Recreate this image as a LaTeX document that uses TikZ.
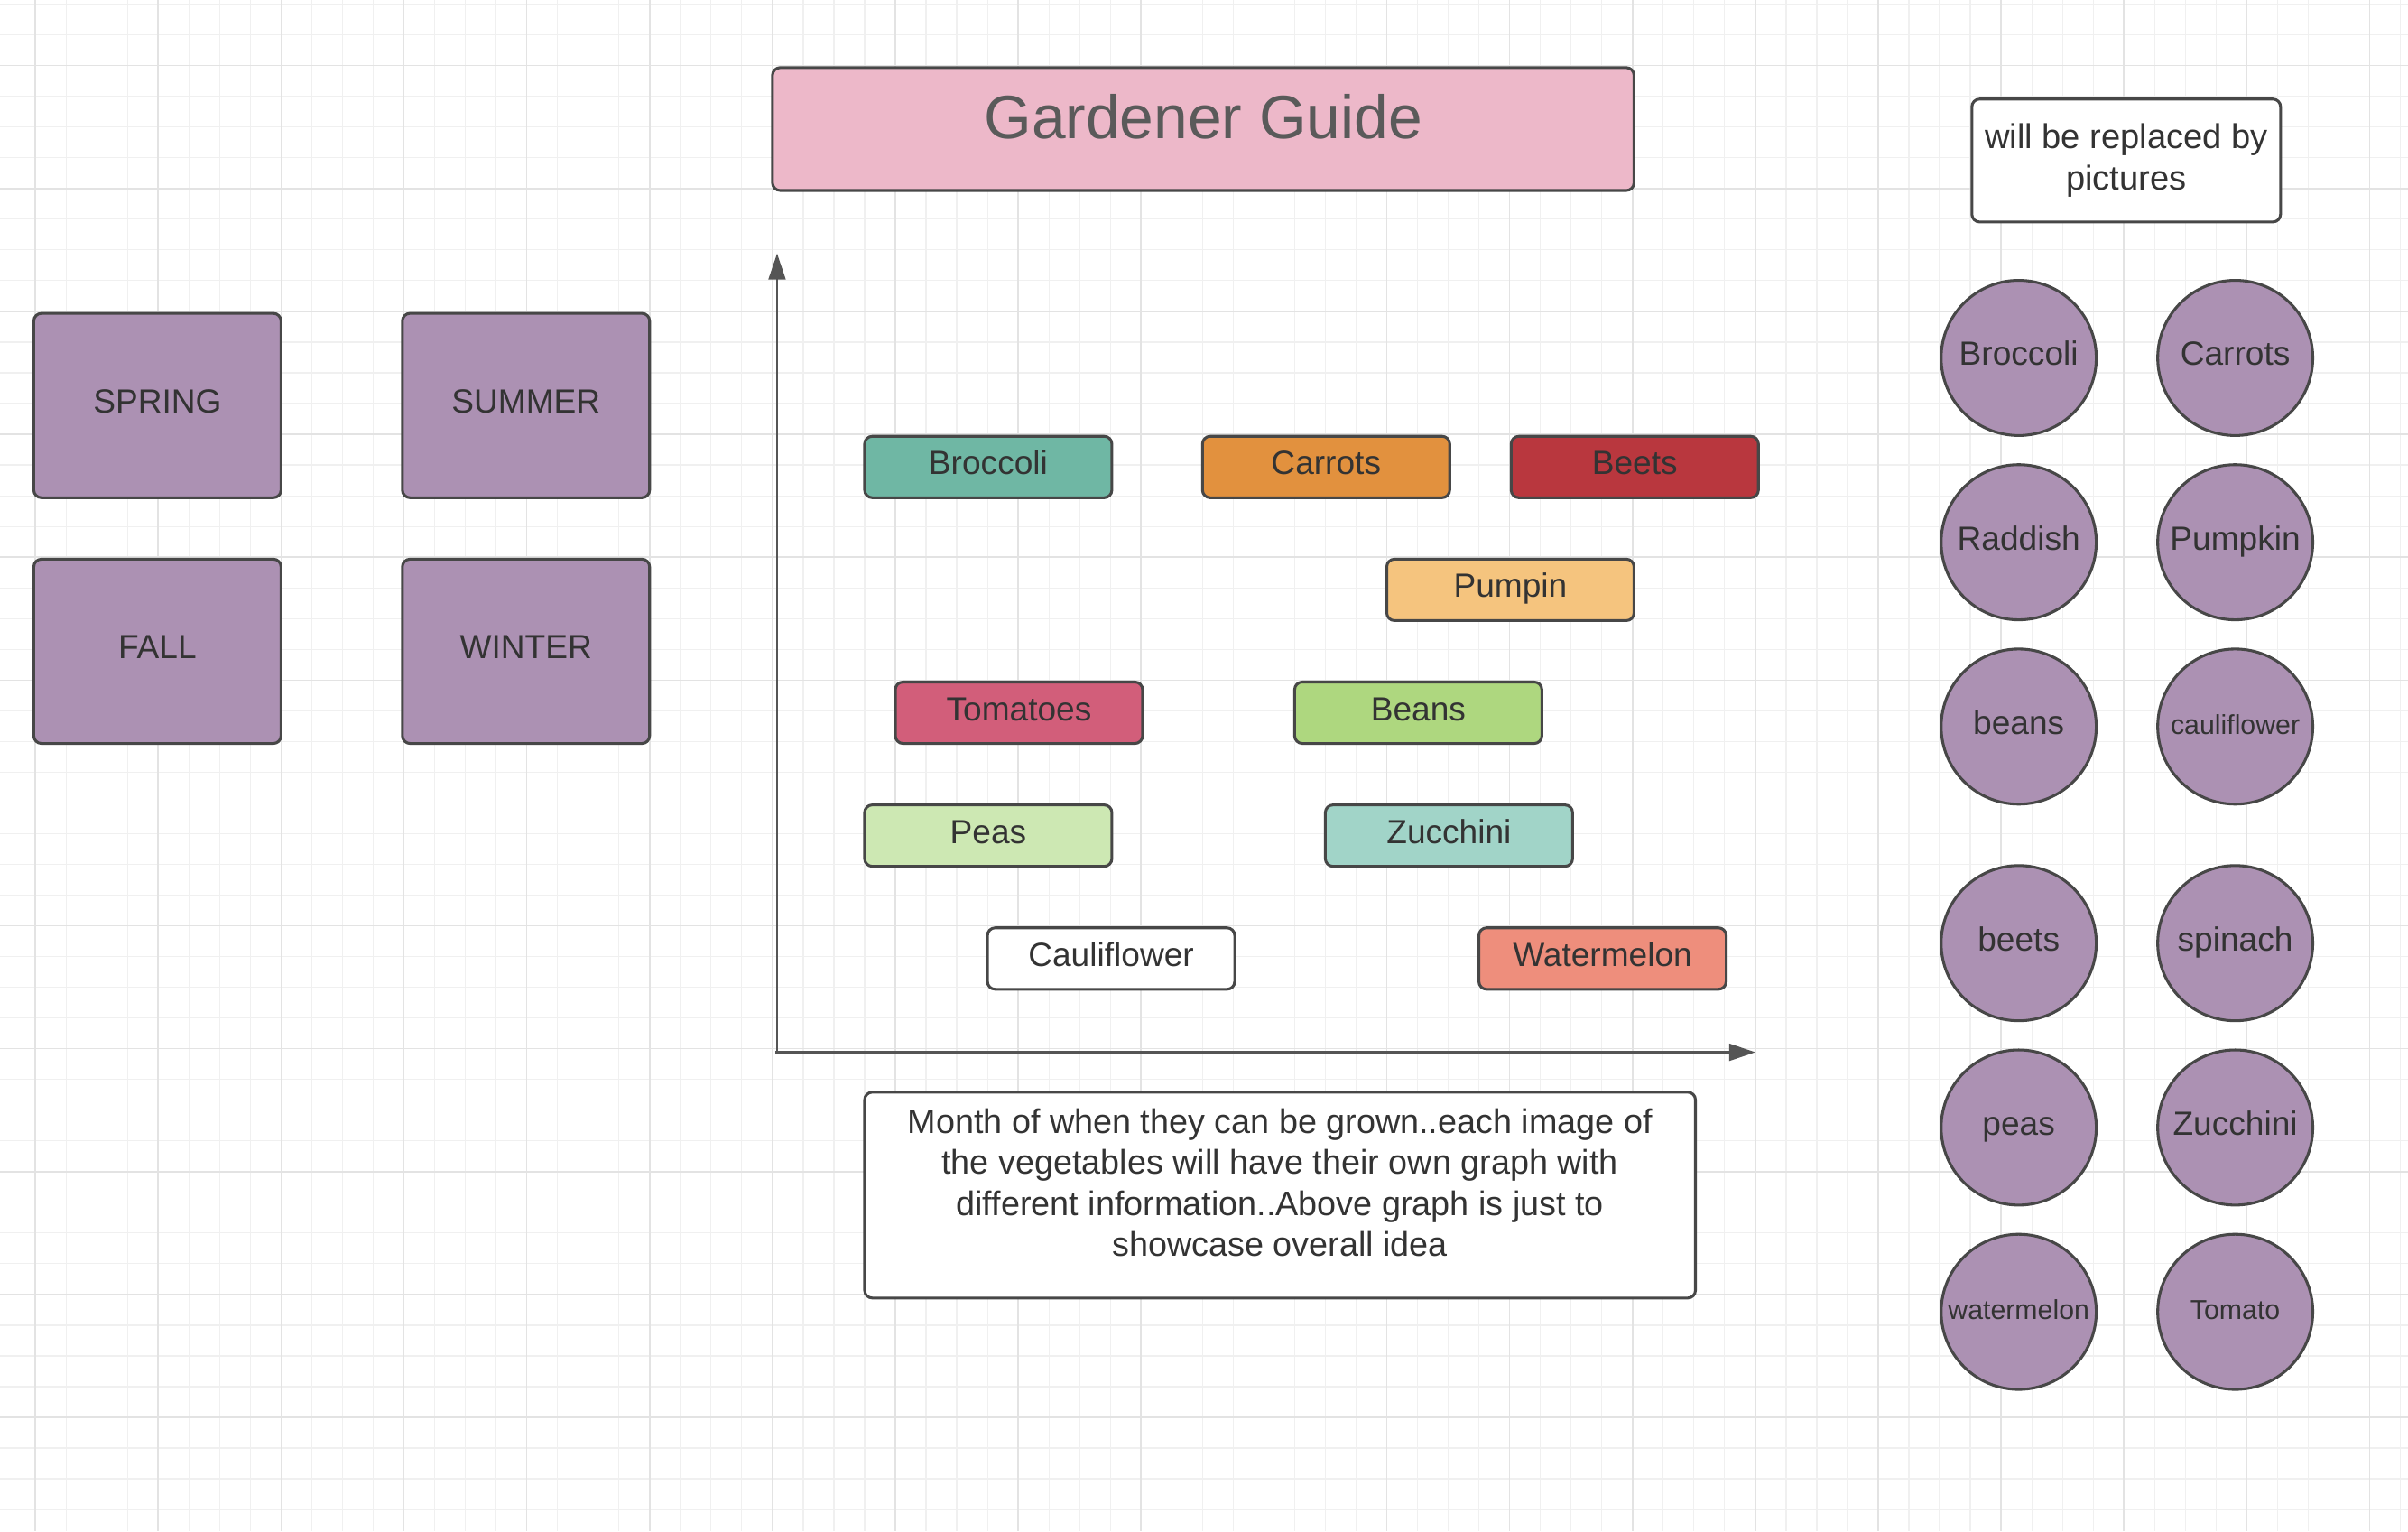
\documentclass[tikz,border=0pt]{standalone}
\usepackage{fontspec}
\setmainfont{Liberation Sans}
\usetikzlibrary{arrows.meta}
\definecolor{gridminor}{HTML}{F0F0F0}
\definecolor{gridmajor}{HTML}{E3E3E3}
\definecolor{edge}{HTML}{474747}
\definecolor{axisc}{HTML}{555555}
\definecolor{txt}{HTML}{333333}
\definecolor{titletxt}{HTML}{5A5A5A}
\definecolor{pinkT}{HTML}{EDB8C9}
\definecolor{purp}{HTML}{AC91B3}
\definecolor{tealB}{HTML}{6FB7A4}
\definecolor{orangeC}{HTML}{E2913E}
\definecolor{redB}{HTML}{B9373E}
\definecolor{pumpkinC}{HTML}{F5C47E}
\definecolor{tomatoC}{HTML}{D25E7A}
\definecolor{beansC}{HTML}{AED77F}
\definecolor{peasC}{HTML}{CDE8B3}
\definecolor{zucchiniC}{HTML}{A1D4C8}
\definecolor{melonC}{HTML}{EE8E7C}
\begin{document}
\begin{tikzpicture}[x=0.5pt,y=-0.5pt,
  minorline/.style={draw=gridminor, line width=0.35pt},
  majorline/.style={draw=gridmajor, line width=0.45pt},
  box/.style={draw=edge, line width=0.9pt, rounded corners=2.5pt, inner sep=0pt,
    text=txt, font=\fontsize{10.9pt}{13pt}\selectfont},
  season/.style={box, fill=purp, minimum width=80.5pt, minimum height=60pt,
    text height=0.75em, text depth=0.25em},
  bar/.style={box, minimum width=80.5pt, minimum height=20pt,
    text height=0.75em, text depth=0.25em},
  veg/.style={circle, draw=edge, line width=0.9pt, fill=purp, minimum size=50.5pt,
    inner sep=0pt, text=txt, font=\fontsize{10.9pt}{13pt}\selectfont,
    text height=0.75em, text depth=0.25em},
  smallveg/.style={veg, font=\fontsize{8.9pt}{10pt}\selectfont},
  note/.style={box, fill=white, align=center},
  axisline/.style={draw=axisc, line width=0.8pt, -{Triangle[length=8.5pt,width=5.5pt]}}
]
\useasboundingbox (0,0) rectangle (1568,996.8);
\fill[white] (0,0) rectangle (1568,996.8);
% grid
\foreach \gx in {3,23,...,1563} \draw[minorline] (\gx,0) -- (\gx,996.8);
\foreach \gy in {2.7,22.7,...,982.7} \draw[minorline] (0,\gy) -- (1568,\gy);
\foreach \gx in {23,103,...,1543} \draw[majorline] (\gx,0) -- (\gx,996.8);
\foreach \gy in {42.7,122.7,...,922.7} \draw[majorline] (0,\gy) -- (1568,\gy);

% title
\node[box, fill=pinkT, minimum width=280.5pt, minimum height=40pt, text=titletxt,
  font=\fontsize{19.9pt}{22pt}\selectfont, text height=0.75em, text depth=0.1em]
  (title) at (783.5,84) {Gardener Guide};

% seasons
\node[season] (spring) at (102.5,264) {SPRING};
\node[season] (summer) at (342.5,264) {SUMMER};
\node[season] (fall)   at (102.5,424) {FALL};
\node[season] (winter) at (342.5,424) {WINTER};

% axes
\coordinate (origin) at (506,685);
\coordinate (ytop) at (506,165);
\coordinate (xstart) at (505,685);
\coordinate (xend) at (1143,685);
\draw[axisline] (origin) -- (ytop);
\draw[axisline] (xstart) -- (xend);

% bars
\node[bar, fill=tealB]     (bBroccoli)    at (643.5,304) {Broccoli};
\node[bar, fill=orangeC]   (bCarrots)     at (863.5,304) {Carrots};
\node[bar, fill=redB]      (bBeets)       at (1064.5,304) {Beets};
\node[bar, fill=pumpkinC]  (bPumpin)      at (983.5,384) {Pumpin};
\node[bar, fill=tomatoC]   (bTomatoes)    at (663.5,464) {Tomatoes};
\node[bar, fill=beansC]    (bBeans)       at (923.5,464) {Beans};
\node[bar, fill=peasC]     (bPeas)        at (643.5,544) {Peas};
\node[bar, fill=zucchiniC] (bZucchini)    at (943.5,544) {Zucchini};
\node[bar, fill=white]     (bCauliflower) at (723.5,624) {Cauliflower};
\node[bar, fill=melonC]    (bWatermelon)  at (1043.5,624) {Watermelon};

% description
\node[note, minimum width=270.5pt, minimum height=67pt,
  font=\fontsize{11.1pt}{13.35pt}\selectfont] (desc) at (833.5,778)
  {Month of when they can be grown..each image of\\the vegetables will have their own graph with\\different information..Above graph is just to\\showcase overall idea\\[-9pt]\strut};

% replaced note
\node[note, minimum width=100.5pt, minimum height=40pt,
  font=\fontsize{11.2pt}{13.5pt}\selectfont] (repl) at (1384.5,104.5)
  {will be replaced by\\pictures};

% circles
\node[veg] (cBroccoli) at (1314.5,233) {Broccoli};
\node[veg] (cCarrots)  at (1455.5,233) {Carrots};
\node[veg] (cRaddish)  at (1314.5,353) {Raddish};
\node[veg] (cPumpkin)  at (1455.5,353) {Pumpkin};
\node[veg] (cBeans)    at (1314.5,473) {beans};
\node[smallveg] (cCauliflower) at (1455.5,473) {cauliflower};
\node[veg] (cBeets)    at (1314.5,614) {beets};
\node[veg] (cSpinach)  at (1455.5,614) {spinach};
\node[veg] (cPeas)     at (1314.5,734) {peas};
\node[veg] (cZucchini) at (1455.5,734) {Zucchini};
\node[smallveg] (cWatermelon) at (1314.5,854) {watermelon};
\node[smallveg] (cTomato)     at (1455.5,854) {Tomato};
\end{tikzpicture}
\end{document}
